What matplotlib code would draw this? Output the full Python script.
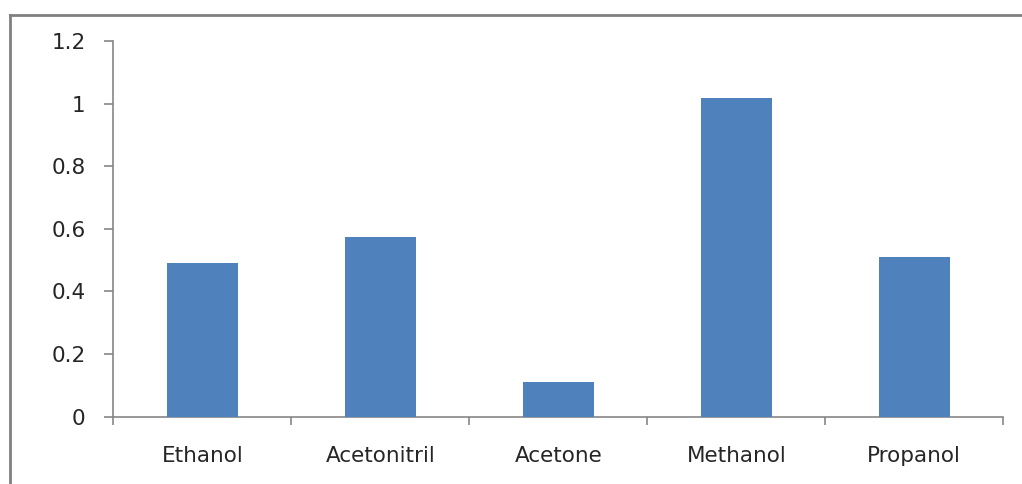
import matplotlib
matplotlib.use("Agg")
import matplotlib.pyplot as plt
from matplotlib.lines import Line2D
import numpy as np

solvents = ["Ethanol", "Acetonitril", "Acetone", "Methanol", "Propanol"]
values = [0.49, 0.573, 0.11, 1.017, 0.511]
y_ticks = [0, 0.2, 0.4, 0.6, 0.8, 1.0, 1.2]
y_tick_labels = ["0", "0.2", "0.4", "0.6", "0.8", "1", "1.2"]

W, H = 1022, 484
fig = plt.figure(figsize=(W / 100, H / 100), dpi=100)
fig.patch.set_facecolor("white")

# outer frame (top and left edges)
frame_kw = dict(color="#808080", lw=2.0, transform=fig.transFigure)
fig.add_artist(Line2D([10 / W, 1.01], [1 - 15 / H, 1 - 15 / H], **frame_kw))
fig.add_artist(Line2D([10 / W, 10 / W], [1 - 15 / H, -0.01], **frame_kw))

left, right = 113.3 / W, 1003.3 / W
bottom, top = 1 - 416.7 / H, 1 - 41 / H
ax = fig.add_axes([left, bottom, right - left, top - bottom])

x = np.arange(len(solvents))
ax.bar(x + 0.5, values, width=0.4, color="#4F81BD", zorder=3)

ax.set_xlim(0, len(solvents))
ax.set_ylim(0, 1.2)

axis_color = "#868686"
for side in ("top", "right"):
    ax.spines[side].set_visible(False)
for side in ("left", "bottom"):
    ax.spines[side].set_color(axis_color)
    ax.spines[side].set_linewidth(1.2)

ax.set_yticks(y_ticks)
ax.set_yticklabels(y_tick_labels)
ax.set_xticks(np.arange(len(solvents) + 1))
ax.set_xticklabels([])
ax.set_xticks(x + 0.5, minor=True)
ax.set_xticklabels(solvents, minor=True)

ax.tick_params(axis="y", direction="out", length=6.5, width=1.2, color=axis_color,
               pad=13.5, labelsize=15.5, labelcolor="#262626")
ax.tick_params(axis="x", which="major", direction="out", length=6, width=1.2,
               color=axis_color)
ax.tick_params(axis="x", which="minor", length=0, pad=21, labelsize=15.5,
               labelcolor="#262626")

for lbl in ax.get_yticklabels() + ax.get_xticklabels(minor=True):
    lbl.set_fontfamily("DejaVu Sans")

fig.savefig("out.png", dpi=100, facecolor="white")
